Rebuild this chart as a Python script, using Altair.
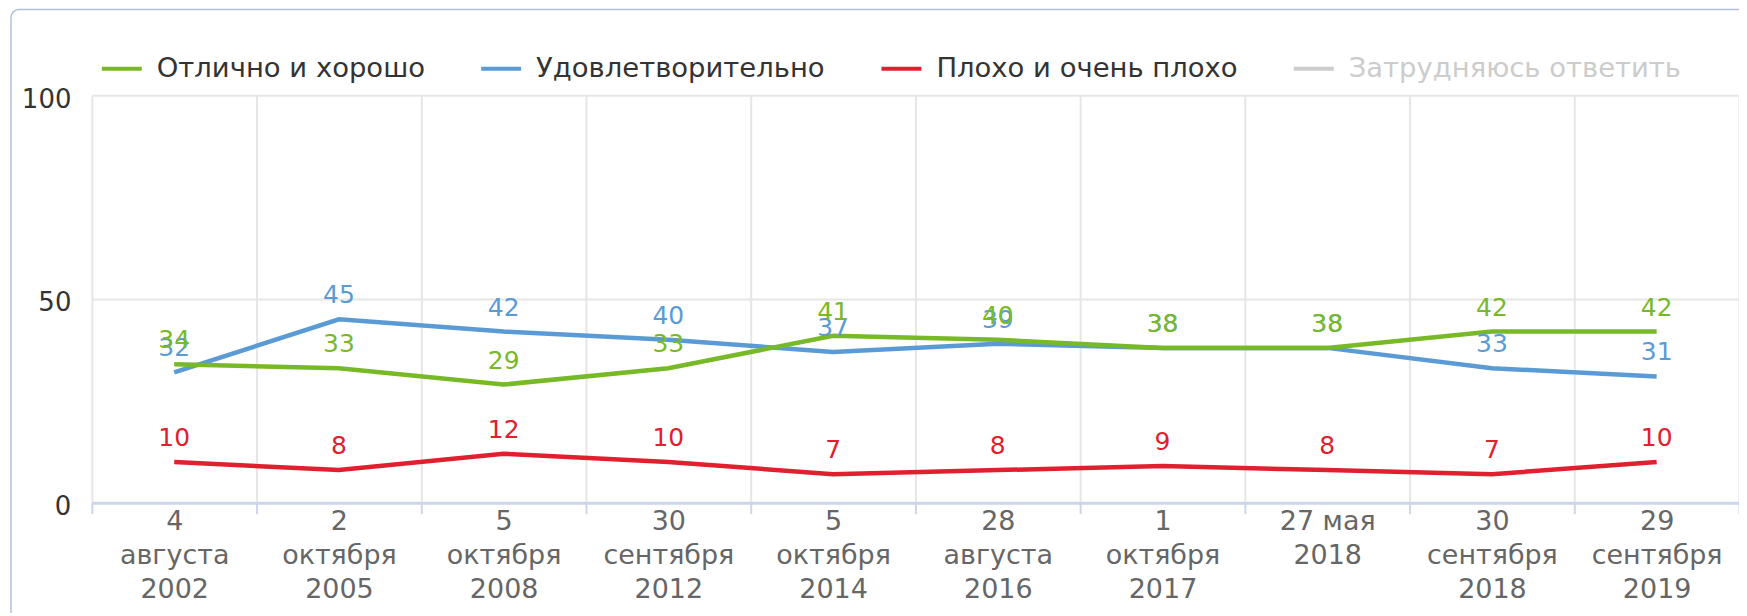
import altair as alt
import pandas as pd

# ---- data ----
categories = [
    "4|августа|2002", "2|октября|2005", "5|октября|2008", "30|сентября|2012",
    "5|октября|2014", "28|августа|2016", "1|октября|2017", "27 мая|2018",
    "30|сентября|2018", "29|сентября|2019",
]
series_names = ["Отлично и хорошо", "Удовлетворительно", "Плохо и очень плохо", "Затрудняюсь ответить"]
series_colors = ["#78b928", "#5b9bd5", "#e0202e", "#cccccc"]

good = [34, 33, 29, 33, 41, 40, 38, 38, 42, 42]
satisfactory = [32, 45, 42, 40, 37, 39, 38, 38, 33, 31]
bad = [10, 8, 12, 10, 7, 8, 9, 8, 7, 10]
# "Затрудняюсь ответить" is switched off in the reference (no values shown)

rows = []
for name, vals in [(series_names[2], bad), (series_names[1], satisfactory), (series_names[0], good)]:
    for c, v in zip(categories, vals):
        rows.append({"series": name, "cat": c, "value": v})
df = pd.DataFrame(rows)

FONT = "DejaVu Sans"

x = alt.X(
    "cat:N", sort=categories,
    scale=alt.Scale(type="band", paddingInner=0, paddingOuter=0),
    axis=alt.Axis(
        title=None, labelAngle=0, labelExpr="split(datum.label, '|')",
        tickBand="extent", grid=True, gridColor="#e6e6e6", gridWidth=2,
        tickColor="#ccd6eb", tickWidth=2, tickSize=11,
        domainColor="#ccd6eb", domainWidth=3,
        labelFont=FONT, labelFontSize=27, labelColor="#666666",
        labelLineHeight=34, labelPadding=-5, labelBaseline="top",
    ),
)
y = alt.Y(
    "value:Q", scale=alt.Scale(domain=[0, 100], nice=False),
    axis=alt.Axis(
        title=None, values=[0, 50, 100], domain=False, ticks=False,
        grid=True, gridColor="#e6e6e6", gridWidth=2,
        labelFont=FONT, labelFontSize=26, labelColor="#333333",
        labelPadding=21, labelOffset=4,
    ),
)
color = alt.Color(
    "series:N",
    scale=alt.Scale(domain=series_names, range=series_colors),
    legend=alt.Legend(
        title=None, orient="none", legendX=8, legendY=-49, direction="horizontal",
        symbolType="stroke", symbolSize=1600, symbolStrokeWidth=4,
        labelFont=FONT, labelFontSize=27.5, labelOffset=13, columnPadding=48,
        labelLimit=0,
        labelColor=alt.expr("datum.value == 'Затрудняюсь ответить' ? '#cccccc' : '#333333'"),
        padding=0,
    ),
)

border = alt.Chart(pd.DataFrame({"d": [0]})).mark_rect(
    fillOpacity=0, stroke="#b0c0d8", strokeWidth=1.5, cornerRadius=8
).encode(x=alt.value(-81), x2=alt.value(1760), y=alt.value(-86), y2=alt.value(640))

base = alt.Chart(df)
lines = base.mark_line(strokeWidth=4.5).encode(x=x, y=y, color=color, detail="series:N")
labels = base.mark_text(dy=-16, baseline="alphabetic", font=FONT, fontSize=25).encode(
    x=x, y=y, text="value:Q",
    color=alt.Color("series:N", scale=alt.Scale(domain=series_names, range=series_colors), legend=None),
)

chart = alt.layer(border, lines, labels).properties(
    width=1650, height=408,
    autosize=alt.AutoSizeParams(type="none"),
    padding={"left": 84, "top": 87, "right": 0, "bottom": 110},
).configure_view(strokeWidth=0)

chart.save("out.html", embed_options={"renderer": "svg", "actions": False})
